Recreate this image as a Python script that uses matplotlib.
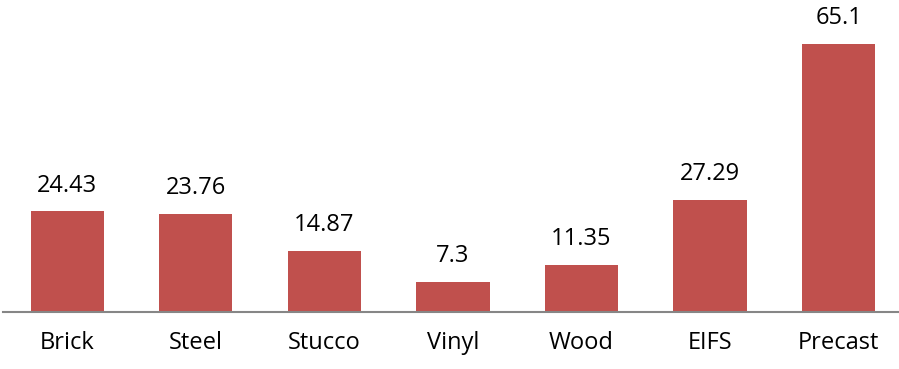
import matplotlib.pyplot as plt

plt.rcParams['font.family'] = ['Open Sans', 'DejaVu Sans']

categories = ['Brick', 'Steel', 'Stucco', 'Vinyl', 'Wood', 'EIFS', 'Precast']
values = [24.43, 23.76, 14.87, 7.3, 11.35, 27.29, 65.1]
value_labels = ['24.43', '23.76', '14.87', '7.3', '11.35', '27.29', '65.1']

fig = plt.figure(figsize=(8.99, 3.69), dpi=100)
ax = fig.add_axes([3 / 899, 57 / 369, 896 / 899, 288 / 369])

x = range(len(categories))
ax.bar(x, values, width=0.57, color='#C0504D', edgecolor='none')

for i, (v, lab) in enumerate(zip(values, value_labels)):
    ax.annotate(lab, (i, v), xytext=(0, 10), textcoords='offset points',
                ha='center', va='bottom', fontsize=17, color='black')

ax.set_xlim(-0.5, 6.47)
ax.set_ylim(0, 70)
ax.set_xticks(list(x))
ax.set_xticklabels(categories, fontsize=17)
ax.tick_params(axis='x', length=0, pad=14)
ax.set_yticks([])

for side in ['top', 'right', 'left']:
    ax.spines[side].set_visible(False)
ax.spines['bottom'].set_color('#868686')
ax.spines['bottom'].set_linewidth(1.5)

plt.savefig('out.png', dpi=100)
